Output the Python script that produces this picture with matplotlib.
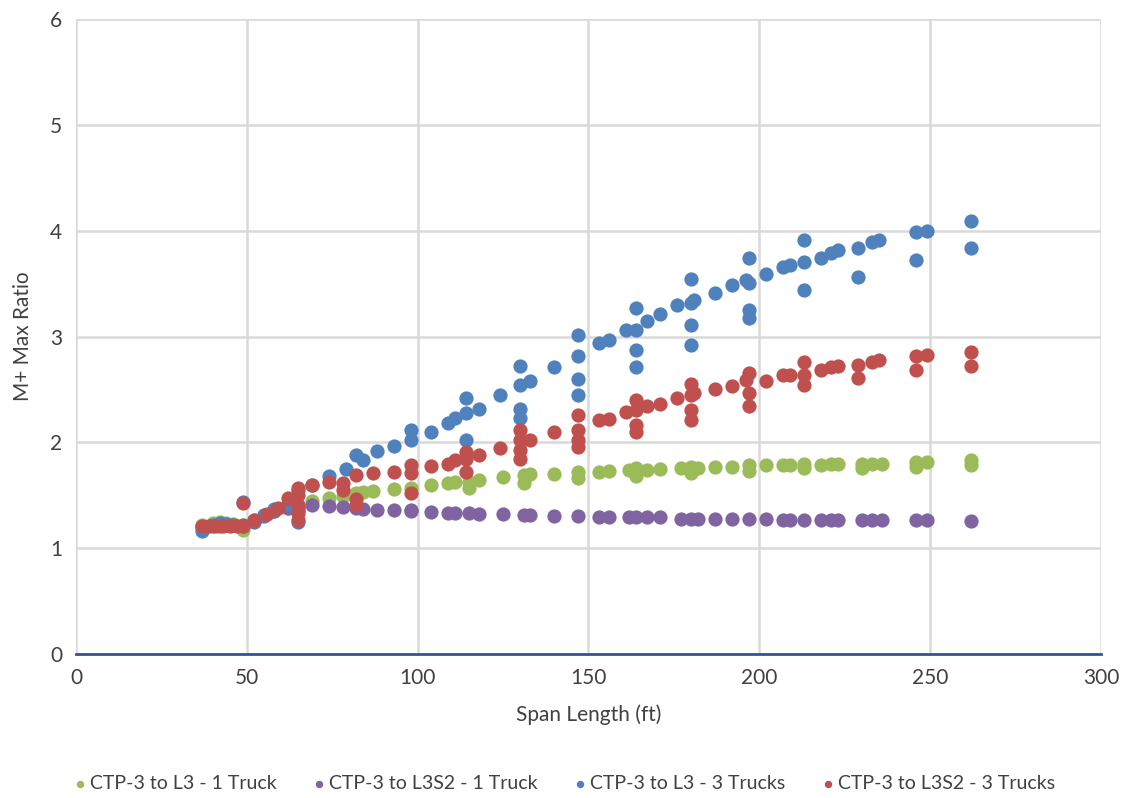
import matplotlib.pyplot as plt

# series data
green_x = [37, 40, 42, 44, 46, 49, 49, 52, 55, 58, 62, 65, 65, 69, 74, 78, 82, 84,
           87, 93, 98, 104, 109, 111, 115, 115, 118, 125, 131, 131, 133, 140, 147, 147,
           153, 156, 162, 164, 164, 167, 171, 177, 180, 180, 182, 187, 192, 197, 197,
           202, 207, 209, 213, 213, 218, 221, 223, 230, 230, 233, 236, 246, 246, 249,
           262, 262]
green_y = [1.22, 1.24, 1.25, 1.24, 1.23, 1.17, 1.22, 1.27, 1.31, 1.35, 1.38, 1.41, 1.36,
           1.45, 1.47, 1.49, 1.52, 1.53, 1.54, 1.56, 1.57, 1.60, 1.62, 1.63, 1.63, 1.57,
           1.64, 1.67, 1.69, 1.62, 1.70, 1.70, 1.72, 1.66, 1.72, 1.73, 1.74, 1.76, 1.68,
           1.74, 1.75, 1.76, 1.77, 1.71, 1.76, 1.77, 1.77, 1.79, 1.73, 1.79, 1.79, 1.79,
           1.80, 1.76, 1.79, 1.80, 1.80, 1.80, 1.76, 1.80, 1.80, 1.81, 1.77, 1.81, 1.83,
           1.79]

purple_x = [37, 40, 42, 44, 46, 49, 52, 55, 58, 62, 65, 65, 69, 74, 78, 82, 84, 88, 93,
            98, 98, 104, 109, 111, 115, 118, 125, 131, 133, 140, 147, 153, 156, 162, 164,
            167, 171, 177, 180, 182, 187, 192, 197, 202, 207, 209, 213, 218, 221, 223,
            230, 233, 236, 246, 249, 262]
purple_y = [1.20, 1.21, 1.21, 1.22, 1.22, 1.21, 1.25, 1.30, 1.35, 1.38, 1.39, 1.36, 1.41,
            1.40, 1.39, 1.38, 1.37, 1.36, 1.36, 1.36, 1.35, 1.34, 1.33, 1.33, 1.33, 1.32,
            1.32, 1.31, 1.31, 1.30, 1.30, 1.29, 1.29, 1.29, 1.29, 1.29, 1.29, 1.28, 1.28,
            1.28, 1.28, 1.28, 1.28, 1.28, 1.27, 1.27, 1.27, 1.27, 1.27, 1.27, 1.27, 1.27,
            1.27, 1.27, 1.27, 1.26]

blue_x = [37, 40, 42, 44, 46, 49, 49, 52, 55, 58, 62, 65, 65, 69, 74, 79, 82, 84, 88,
          93, 98, 98, 104, 109, 111, 114, 114, 114, 118, 124, 130, 130, 130, 130, 133,
          140, 147, 147, 147, 147, 153, 156, 161, 164, 164, 164, 164, 167, 171, 176, 180,
          180, 180, 180, 181, 187, 192, 196, 197, 197, 197, 197, 202, 207, 209, 213, 213,
          213, 218, 221, 223, 229, 229, 233, 235, 246, 246, 249, 262, 262]
blue_y = [1.16, 1.22, 1.24, 1.23, 1.22, 1.44, 1.22, 1.26, 1.31, 1.37, 1.42, 1.25, 1.55,
          1.60, 1.68, 1.75, 1.88, 1.83, 1.92, 1.97, 2.12, 2.02, 2.10, 2.18, 2.23, 2.28,
          2.42, 2.02, 2.32, 2.45, 2.72, 2.54, 2.32, 2.23, 2.58, 2.71, 3.01, 2.82, 2.60,
          2.45, 2.94, 2.97, 3.06, 3.27, 3.06, 2.87, 2.71, 3.15, 3.21, 3.30, 3.32, 3.54,
          3.11, 2.92, 3.35, 3.41, 3.49, 3.53, 3.74, 3.51, 3.25, 3.18, 3.59, 3.66, 3.68,
          3.91, 3.70, 3.44, 3.74, 3.79, 3.82, 3.84, 3.56, 3.89, 3.91, 3.99, 3.72, 4.00,
          4.09, 3.84]

red_x = [37, 39, 41, 43, 45, 47, 49, 49, 52, 56, 59, 62, 65, 65, 65, 65, 65, 69, 74, 78,
         78, 82, 82, 82, 87, 93, 98, 98, 98, 104, 109, 111, 114, 114, 114, 118, 124, 130,
         130, 130, 130, 133, 140, 147, 147, 147, 147, 153, 156, 161, 164, 164, 164, 164,
         167, 171, 176, 180, 180, 180, 180, 181, 187, 192, 196, 197, 197, 197, 202, 207,
         209, 213, 213, 213, 218, 221, 223, 229, 229, 233, 235, 246, 246, 249, 262, 262]
red_y = [1.21, 1.21, 1.21, 1.21, 1.21, 1.21, 1.43, 1.21, 1.27, 1.32, 1.38, 1.47, 1.57,
         1.50, 1.41, 1.33, 1.27, 1.60, 1.63, 1.62, 1.55, 1.69, 1.46, 1.41, 1.71, 1.72,
         1.79, 1.71, 1.52, 1.78, 1.80, 1.83, 1.91, 1.84, 1.72, 1.88, 1.95, 2.12, 2.02,
         1.93, 1.84, 2.02, 2.10, 2.26, 2.12, 2.02, 1.96, 2.21, 2.22, 2.29, 2.40, 2.31,
         2.16, 2.10, 2.34, 2.36, 2.42, 2.55, 2.45, 2.31, 2.21, 2.47, 2.50, 2.53, 2.59,
         2.66, 2.47, 2.34, 2.58, 2.64, 2.64, 2.76, 2.64, 2.54, 2.68, 2.71, 2.72, 2.73,
         2.61, 2.76, 2.78, 2.82, 2.68, 2.83, 2.85, 2.72]

labels = ['CTP-3 to L3 - 1 Truck', 'CTP-3 to L3S2 - 1 Truck',
          'CTP-3 to L3 - 3 Trucks', 'CTP-3 to L3S2 - 3 Trucks']
colors = ['#9BBB59', '#8064A2', '#4F81BD', '#C0504D']

plt.rcParams['font.family'] = ['Lato', 'DejaVu Sans']

fig = plt.figure(figsize=(11.25, 7.98), dpi=100)
ax = fig.add_axes([0.0676, 0.1805, 0.911, 0.7955])

series = [(green_x, green_y), (purple_x, purple_y), (blue_x, blue_y), (red_x, red_y)]
for (xs, ys), lab, col in zip(series, labels, colors):
    ax.scatter(xs, ys, s=105, color=col, label=lab, linewidths=0, zorder=3)

ax.set_xlim(0, 300)
ax.set_ylim(0, 6)
ax.set_xticks(range(0, 301, 50))
ax.set_yticks(range(0, 7))
ax.grid(True, color='#D9D9D9', linewidth=1.8, zorder=0)
for side in ['top', 'right', 'left']:
    ax.spines[side].set_visible(False)
ax.spines['bottom'].set_color('#2F5597')
ax.spines['bottom'].set_linewidth(2)
ax.spines['bottom'].set_zorder(4)
ax.tick_params(length=0, labelsize=15, colors='#404040', pad=10)
ax.set_xlabel('Span Length (ft)', fontsize=15, color='#404040', labelpad=12)
ax.set_ylabel('M+ Max Ratio', fontsize=15, color='#404040', labelpad=12)

fig.legend(loc='center', bbox_to_anchor=(0.5, 0.018), ncol=4, frameon=False,
           fontsize=14, markerscale=0.52, handletextpad=0.0, handlelength=1.0,
           columnspacing=1.7, labelcolor='#404040')

plt.savefig('out.png', dpi=100)
